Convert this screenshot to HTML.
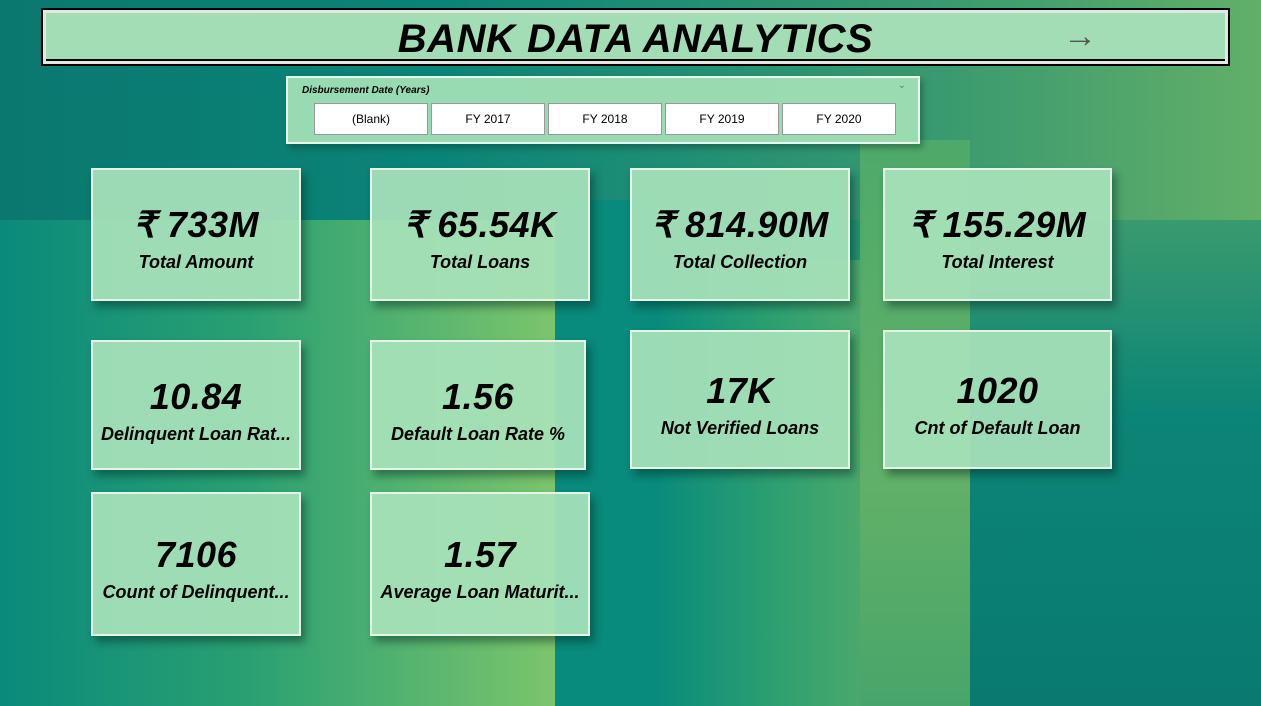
<!DOCTYPE html>
<html><head><meta charset="utf-8"><style>
*{margin:0;padding:0;box-sizing:border-box}
body{width:1261px;height:706px;overflow:hidden;position:relative;font-family:"Liberation Sans",sans-serif;background:linear-gradient(120deg,#0b7f72 0%,#0a8a7b 40%,#2e9a70 70%,#63b06a 100%)}
.bg{position:absolute}
.card{position:absolute;background:rgba(168,226,186,0.92);border:2px solid #e4f5e8;box-shadow:4px 6px 8px rgba(0,40,30,0.45);text-align:center;font-style:italic;font-weight:bold;color:#000}
.card .v{font-size:36px;letter-spacing:0.5px}
.card .l{font-size:18px;margin-top:6px}
.btn{position:absolute;top:25px;height:32px;width:114px;background:#fff;border:1px solid #999;font-size:12px;text-align:center;line-height:30px}
</style></head><body>
<div class="bg" style="left:0;top:0;width:1261px;height:220px;background:linear-gradient(90deg,#0b786d 0%,#0a8478 35%,#3a9a6f 75%,#62af68 100%)"></div>
<div class="bg" style="left:0;top:220px;width:555px;height:486px;background:linear-gradient(90deg,#0a8a7b 0%,#2aa072 45%,#7cc56c 100%)"></div>
<div class="bg" style="left:555px;top:200px;width:105px;height:506px;background:#088a7c"></div>
<div class="bg" style="left:660px;top:260px;width:200px;height:446px;background:linear-gradient(90deg,#0a8c7b 0%,#2fa070 60%,#4aa86c 100%)"></div>
<div class="bg" style="left:860px;top:140px;width:110px;height:566px;background:linear-gradient(180deg,#4eaa6a,#62b068 60%,#48a56a)"></div>
<div class="bg" style="left:970px;top:220px;width:291px;height:486px;background:linear-gradient(180deg,#3a9a6f 0%,#0b8576 40%,#0a7a6e 100%)"></div>

<div style="position:absolute;left:41px;top:8px;width:1189px;height:58px;border:2px solid #000;background:#dfe9e2;padding:3px">
 <div style="width:100%;height:100%;background:#a3ddb5;position:relative;border-bottom:2px solid #000">
  <div style="position:absolute;left:0;right:0;top:4px;text-align:center;font-size:40px;font-weight:bold;font-style:italic;letter-spacing:0.5px">BANK DATA ANALYTICS</div>
  <div style="position:absolute;left:1017px;top:4px;font-size:34px;color:#555">&#8594;</div>
 </div>
</div>

<div style="position:absolute;left:286px;top:76px;width:634px;height:68px;background:rgba(160,222,180,0.95);border:2px solid #e8f6ec;box-shadow:3px 4px 6px rgba(0,40,30,0.35)">
 <div style="position:absolute;left:14px;top:7px;font-size:10px;font-weight:bold;font-style:italic">Disbursement Date (Years)</div>
 <div style="position:absolute;right:12px;top:2px;font-size:10px;color:#777">&#8964;</div>
 <div class="btn" style="left:26px">(Blank)</div>
 <div class="btn" style="left:143px">FY 2017</div>
 <div class="btn" style="left:260px">FY 2018</div>
 <div class="btn" style="left:377px">FY 2019</div>
 <div class="btn" style="left:494px">FY 2020</div>
</div>

<div class="card" style="left:91px;top:168px;width:210px;height:133px;padding-top:34px"><div class="v">₹ 733M</div><div class="l">Total Amount</div></div>
<div class="card" style="left:370px;top:168px;width:220px;height:133px;padding-top:34px"><div class="v">₹ 65.54K</div><div class="l">Total Loans</div></div>
<div class="card" style="left:630px;top:168px;width:220px;height:133px;padding-top:34px"><div class="v">₹ 814.90M</div><div class="l">Total Collection</div></div>
<div class="card" style="left:883px;top:168px;width:229px;height:133px;padding-top:34px"><div class="v">₹ 155.29M</div><div class="l">Total Interest</div></div>

<div class="card" style="left:91px;top:340px;width:210px;height:130px;padding-top:34px"><div class="v">10.84</div><div class="l">Delinquent Loan Rat...</div></div>
<div class="card" style="left:370px;top:340px;width:216px;height:130px;padding-top:34px"><div class="v">1.56</div><div class="l">Default Loan Rate %</div></div>
<div class="card" style="left:630px;top:330px;width:220px;height:139px;padding-top:38px"><div class="v">17K</div><div class="l">Not Verified Loans</div></div>
<div class="card" style="left:883px;top:330px;width:229px;height:139px;padding-top:38px"><div class="v">1020</div><div class="l">Cnt of Default Loan</div></div>

<div class="card" style="left:91px;top:492px;width:210px;height:144px;padding-top:40px"><div class="v">7106</div><div class="l">Count of Delinquent...</div></div>
<div class="card" style="left:370px;top:492px;width:220px;height:144px;padding-top:40px"><div class="v">1.57</div><div class="l">Average Loan Maturit...</div></div>
</body></html>
